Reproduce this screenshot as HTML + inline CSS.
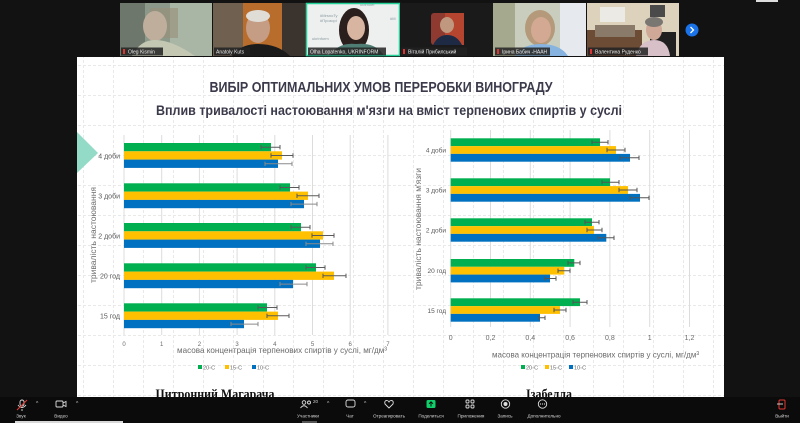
<!DOCTYPE html>
<html><head><meta charset="utf-8">
<style>
html,body{margin:0;padding:0;background:#111;width:800px;height:423px;overflow:hidden}
svg{display:block}
text{font-family:"Liberation Sans","DejaVu Sans",sans-serif}
</style></head>
<body>
<svg width="800" height="423" viewBox="0 0 800 423" xmlns="http://www.w3.org/2000/svg">
<defs>
<pattern id="grid" x="83" y="65" width="30" height="30" patternUnits="userSpaceOnUse">
<path d="M0 0.5H30 M0.5 0V30" stroke="#e9e9e9" stroke-width="1" stroke-dasharray="3 2" fill="none"/>
</pattern>
</defs>
<!-- dark background -->
<rect x="0" y="0" width="800" height="423" fill="#121212"/>
<!-- slide -->
<rect x="77" y="57" width="647" height="340" fill="#ffffff"/>
<rect x="77" y="57" width="647" height="340" fill="url(#grid)"/>
<polygon points="77,132 98,153 77,173" fill="#93dbc6"/>

<!-- titles -->
<text x="381" y="92" text-anchor="middle" font-size="14.5" font-weight="bold" fill="#3b3a4a" textLength="343" lengthAdjust="spacingAndGlyphs">ВИБІР ОПТИМАЛЬНИХ УМОВ ПЕРЕРОБКИ ВИНОГРАДУ</text>
<text x="389" y="115" text-anchor="middle" font-size="14" font-weight="bold" fill="#3b3a4a" textLength="466" lengthAdjust="spacingAndGlyphs">Вплив тривалості настоювання м'язги на вміст терпенових спиртів у суслі</text>

<!-- LEFT CHART gridlines -->
<g stroke="#dcdcdc" stroke-width="1">
<line x1="124" y1="135" x2="124" y2="335"/>
<line x1="161.7" y1="135" x2="161.7" y2="335"/>
<line x1="199.4" y1="135" x2="199.4" y2="335"/>
<line x1="237.1" y1="135" x2="237.1" y2="335"/>
<line x1="274.8" y1="135" x2="274.8" y2="335"/>
<line x1="312.5" y1="135" x2="312.5" y2="335"/>
<line x1="350.2" y1="135" x2="350.2" y2="335"/>
<line x1="387.9" y1="135" x2="387.9" y2="335"/>
</g>
<!-- left bars -->
<g>
<rect x="124" y="143" width="147" height="8.3" fill="#00b050"/>
<rect x="124" y="151.3" width="158" height="8.3" fill="#ffc000"/>
<rect x="124" y="159.6" width="154" height="8.3" fill="#0070c0"/>
<rect x="124" y="183.3" width="166" height="8.3" fill="#00b050"/>
<rect x="124" y="191.6" width="184" height="8.3" fill="#ffc000"/>
<rect x="124" y="199.9" width="180" height="8.3" fill="#0070c0"/>
<rect x="124" y="223" width="177" height="8.3" fill="#00b050"/>
<rect x="124" y="231.3" width="199" height="8.3" fill="#ffc000"/>
<rect x="124" y="239.6" width="196" height="8.3" fill="#0070c0"/>
<rect x="124" y="263.3" width="192" height="8.3" fill="#00b050"/>
<rect x="124" y="271.6" width="210" height="8.3" fill="#ffc000"/>
<rect x="124" y="279.9" width="169" height="8.3" fill="#0070c0"/>
<rect x="124" y="303.3" width="143" height="8.3" fill="#00b050"/>
<rect x="124" y="311.6" width="154" height="8.3" fill="#ffc000"/>
<rect x="124" y="319.9" width="120" height="8.3" fill="#0070c0"/>
</g>
<g stroke="#5a5a5a" stroke-width="1" fill="none">
<path d="M261 147.2H280M261 145V149.4M280 145V149.4"/>
<path d="M271 155.5H293M271 153.3V157.7M293 153.3V157.7"/>
<path d="M265 163.8H292M265 161.6V166M292 161.6V166" stroke="#8a8a8a"/>
<path d="M280 187.5H299M280 185.3V189.7M299 185.3V189.7"/>
<path d="M297 195.8H319M297 193.6V198M319 193.6V198"/>
<path d="M291 204.1H317M291 201.9V206.3M317 201.9V206.3" stroke="#8a8a8a"/>
<path d="M291 227.2H310M291 225V229.4M310 225V229.4"/>
<path d="M312 235.5H334M312 233.3V237.7M334 233.3V237.7"/>
<path d="M306 243.8H333M306 241.6V246M333 241.6V246" stroke="#8a8a8a"/>
<path d="M306 267.5H325M306 265.3V269.7M325 265.3V269.7"/>
<path d="M323 275.8H346M323 273.6V278M346 273.6V278"/>
<path d="M280 284.1H307M280 281.9V286.3M307 281.9V286.3" stroke="#8a8a8a"/>
<path d="M258 307.5H277M258 305.3V309.7M277 305.3V309.7"/>
<path d="M267 315.8H289M267 313.6V318M289 313.6V318"/>
<path d="M231 324.1H258M231 321.9V326.3M258 321.9V326.3" stroke="#8a8a8a"/>
</g>
<!-- left labels -->
<g font-size="7" fill="#595959" text-anchor="end">
<text x="120" y="158.5">4 доби</text>
<text x="120" y="198.5">3 доби</text>
<text x="120" y="238.5">2 доби</text>
<text x="120" y="278.5">20 год</text>
<text x="120" y="318.5">15 год</text>
</g>
<g font-size="6" fill="#6a6a6a" text-anchor="middle">
<text x="124" y="346">0</text>
<text x="161.7" y="346">1</text>
<text x="199.4" y="346">2</text>
<text x="237.1" y="346">3</text>
<text x="274.8" y="346">4</text>
<text x="312.5" y="346">5</text>
<text x="350.2" y="346">6</text>
<text x="387.9" y="346">7</text>
</g>
<text x="177" y="353" font-size="8.5" fill="#6a6a6a" textLength="210" lengthAdjust="spacingAndGlyphs">масова концентрація терпенових спиртів у суслі, мг/дм³</text>
<text transform="translate(96,235) rotate(-90)" text-anchor="middle" font-size="8.5" fill="#6a6a6a" textLength="96" lengthAdjust="spacingAndGlyphs">тривалість настоювання</text>
<g font-size="5.5" fill="#6a6a6a">
<rect x="198" y="365" width="4" height="4" fill="#00b050"/><text x="203" y="369.5">20◦С</text>
<rect x="225" y="365" width="4" height="4" fill="#ffc000"/><text x="230" y="369.5">15◦С</text>
<rect x="252" y="365" width="4" height="4" fill="#0070c0"/><text x="257" y="369.5">10◦С</text>
</g>

<!-- RIGHT CHART gridlines -->
<g stroke="#dcdcdc" stroke-width="1">
<line x1="450.7" y1="130" x2="450.7" y2="327"/>
<line x1="490.5" y1="130" x2="490.5" y2="327"/>
<line x1="530.3" y1="130" x2="530.3" y2="327"/>
<line x1="570.1" y1="130" x2="570.1" y2="327"/>
<line x1="609.9" y1="130" x2="609.9" y2="327"/>
<line x1="649.7" y1="130" x2="649.7" y2="327"/>
<line x1="689.5" y1="130" x2="689.5" y2="327"/>
</g>
<g>
<rect x="450.7" y="138.3" width="149.3" height="7.8" fill="#00b050"/>
<rect x="450.7" y="146.1" width="165.3" height="7.8" fill="#ffc000"/>
<rect x="450.7" y="153.9" width="179.3" height="7.8" fill="#0070c0"/>
<rect x="450.7" y="178.3" width="159.3" height="7.8" fill="#00b050"/>
<rect x="450.7" y="186.1" width="177.3" height="7.8" fill="#ffc000"/>
<rect x="450.7" y="193.9" width="189.3" height="7.8" fill="#0070c0"/>
<rect x="450.7" y="218.3" width="141.3" height="7.8" fill="#00b050"/>
<rect x="450.7" y="226.1" width="143.3" height="7.8" fill="#ffc000"/>
<rect x="450.7" y="233.9" width="155.6" height="7.8" fill="#0070c0"/>
<rect x="450.7" y="259" width="123.6" height="7.8" fill="#00b050"/>
<rect x="450.7" y="266.8" width="113.6" height="7.8" fill="#ffc000"/>
<rect x="450.7" y="274.6" width="99.3" height="7.8" fill="#0070c0"/>
<rect x="450.7" y="298.3" width="129.3" height="7.8" fill="#00b050"/>
<rect x="450.7" y="306.1" width="109.3" height="7.8" fill="#ffc000"/>
<rect x="450.7" y="313.9" width="89.3" height="7.8" fill="#0070c0"/>
</g>
<g stroke="#555" stroke-width="1" fill="none">
<path d="M592 142.2H608M592 140V144.4M608 140V144.4"/>
<path d="M607 150H625M607 147.8V152.2M625 147.8V152.2"/>
<path d="M620 157.8H639M620 155.6V160M639 155.6V160"/>
<path d="M602 182.2H619M602 180V184.4M619 180V184.4"/>
<path d="M619 190H637M619 187.8V192.2M637 187.8V192.2"/>
<path d="M630 197.8H649M630 195.6V200M649 195.6V200"/>
<path d="M585 222.2H599M585 220V224.4M599 220V224.4"/>
<path d="M587 230H602M587 227.8V232.2M602 227.8V232.2"/>
<path d="M598 237.8H614M598 235.6V240M614 235.6V240"/>
<path d="M568 262.9H580M568 260.7V265.1M580 260.7V265.1"/>
<path d="M558 270.7H570M558 268.5V272.9M570 268.5V272.9"/>
<path d="M545 278.5H556M545 276.3V280.7M556 276.3V280.7"/>
<path d="M573 302.2H587M573 300V304.4M587 300V304.4"/>
<path d="M554 310H566M554 307.8V312.2M566 307.8V312.2"/>
<path d="M539 317.8H545M539 315.6V320M545 315.6V320"/>
</g>
<g font-size="6.5" fill="#595959" text-anchor="end">
<text x="446" y="152.5">4 доби</text>
<text x="446" y="192.5">3 доби</text>
<text x="446" y="232.5">2 доби</text>
<text x="446" y="273">20 год</text>
<text x="446" y="313">15 год</text>
</g>
<g font-size="7" fill="#6a6a6a" text-anchor="middle">
<text x="450.7" y="340">0</text>
<text x="490.5" y="340">0,2</text>
<text x="530.3" y="340">0,4</text>
<text x="570.1" y="340">0,6</text>
<text x="609.9" y="340">0,8</text>
<text x="649.7" y="340">1</text>
<text x="689.5" y="340">1,2</text>
</g>
<text x="492" y="357.5" font-size="8.5" fill="#6a6a6a" textLength="207" lengthAdjust="spacingAndGlyphs">масова концентрація терпенових спиртів у суслі, мг/дм³</text>
<text transform="translate(421,229) rotate(-90)" text-anchor="middle" font-size="8.5" fill="#6a6a6a" textLength="122" lengthAdjust="spacingAndGlyphs">тривалість настоювання м'язги</text>
<g font-size="5.5" fill="#6a6a6a">
<rect x="521" y="365" width="4" height="4" fill="#00b050"/><text x="526" y="369.5">20◦С</text>
<rect x="545" y="365" width="4" height="4" fill="#ffc000"/><text x="550" y="369.5">15◦С</text>
<rect x="569" y="365" width="4" height="4" fill="#0070c0"/><text x="574" y="369.5">10◦С</text>
</g>

<!-- chart titles -->
<text x="215" y="398.5" text-anchor="middle" font-family="Liberation Serif, serif" style="font-family:'Liberation Serif',serif" font-size="14" font-weight="bold" fill="#111" textLength="119" lengthAdjust="spacingAndGlyphs">Цитронний Магарача</text>
<text x="549" y="398.5" text-anchor="middle" style="font-family:'Liberation Serif',serif" font-size="14" font-weight="bold" fill="#111" textLength="46" lengthAdjust="spacingAndGlyphs">Ізабелла</text>

<!-- TOP STRIP -->
<rect x="0" y="0" width="800" height="57" fill="#121212"/>
<rect x="0" y="56" width="77" height="1" fill="#121212"/>
<!-- thumb1 -->
<rect x="120" y="3" width="92" height="53" fill="#8c998a"/>
<rect x="120" y="3" width="25" height="53" fill="#6d776b"/>
<rect x="170" y="3" width="42" height="53" fill="#a9b5a5"/>
<rect x="150" y="8" width="28" height="30" fill="#9a8f79" opacity="0.6"/>
<ellipse cx="155" cy="26" rx="12" ry="15" fill="#bfae9c"/>
<path d="M132 56 Q140 40 155 40 Q172 40 195 56Z" fill="#c4c8b3"/>
<!-- thumb2 -->
<rect x="213" y="3" width="93" height="53" fill="#b96d2c"/>
<rect x="213" y="3" width="30" height="53" fill="#6f6050"/>
<rect x="282" y="3" width="24" height="53" fill="#3b342e"/>
<ellipse cx="258" cy="28" rx="12" ry="15" fill="#c59d84"/>
<ellipse cx="258" cy="16" rx="12" ry="6" fill="#e0dcd6"/>
<path d="M232 56 Q240 44 258 44 Q278 44 290 56Z" fill="#1b1b1b"/>
<!-- thumb3 -->
<rect x="306" y="3" width="94" height="53" fill="#eef0ef"/>
<g font-size="4" fill="#8a9aa0"><text x="320" y="17">#MrsnoTy</text><text x="320" y="22">#Прозорi</text><text x="360" y="6">#Mmoef</text><text x="390" y="20">#M</text><text x="312" y="40">ukrinform</text></g>
<ellipse cx="354" cy="30" rx="15" ry="22" fill="#2a1f1c"/>
<ellipse cx="356" cy="28" rx="9" ry="12" fill="#d8b5a0"/>
<path d="M330 56 Q338 42 356 44 Q376 42 384 56Z" fill="#4f7d74"/>
<rect x="306.5" y="3.5" width="93" height="52" fill="none" stroke="#25d29a" stroke-width="1.5"/>
<!-- thumb4 -->
<rect x="400" y="3" width="93" height="53" fill="#1a1a1a"/>
<rect x="431" y="13" width="33" height="32" rx="3" fill="#8f3a30"/>
<rect x="445" y="13" width="19" height="32" fill="#b5452e"/>
<ellipse cx="447" cy="25" rx="7" ry="8" fill="#c09880"/>
<path d="M433 45 Q438 35 447 35 Q457 35 462 45Z" fill="#1e2a44"/>
<!-- thumb5 -->
<rect x="493" y="3" width="93" height="53" fill="#c9cdbd"/>
<rect x="493" y="3" width="22" height="53" fill="#a5aa8f"/>
<rect x="560" y="3" width="26" height="53" fill="#e6eaee"/>
<ellipse cx="540" cy="28" rx="15" ry="18" fill="#b49a7a"/>
<ellipse cx="541" cy="30" rx="10" ry="13" fill="#d4a993"/>
<path d="M515 56 Q522 44 541 44 Q560 44 568 56Z" fill="#86b3df"/>
<!-- thumb6 -->
<rect x="587" y="3" width="92" height="53" fill="#ddd3bd"/>
<rect x="600" y="7" width="25" height="15" fill="#eceae4"/>
<rect x="650" y="5" width="15" height="12" fill="#4a4a4a"/>
<rect x="587" y="30" width="55" height="26" fill="#6d4c36"/>
<rect x="595" y="25" width="40" height="12" fill="#8a7a6a"/>
<rect x="650" y="32" width="26" height="24" fill="#202020"/>
<ellipse cx="654" cy="30" rx="8" ry="10" fill="#d0a898"/>
<ellipse cx="654" cy="22" rx="9" ry="5" fill="#7a7672"/>
<path d="M636 56 Q640 40 654 40 Q668 40 670 56Z" fill="#d8c0c8"/>
<!-- name labels -->
<g font-size="5" fill="#e8e8e8">
<rect x="121" y="47.5" width="42" height="8" fill="#222" opacity="0.85"/><rect x="123" y="49" width="2" height="5" fill="#d33"/><text x="128" y="53.5">Oleg Kismin</text>
<rect x="214" y="47.5" width="36" height="8" fill="#222" opacity="0.85"/><text x="216" y="53.5">Anatoly Kuts</text>
<rect x="308" y="47.5" width="78" height="8" fill="#222" opacity="0.85"/><text x="310" y="53.5">Olha Lopatenko, UKRINFORM</text>
<rect x="401" y="47.5" width="66" height="8" fill="#222" opacity="0.85"/><rect x="403" y="49" width="2" height="5" fill="#d33"/><text x="408" y="53.5">Віталій Прибилський</text>
<rect x="495" y="47.5" width="55" height="8" fill="#222" opacity="0.85"/><rect x="497" y="49" width="2" height="5" fill="#d33"/><text x="502" y="53.5">Ірина Бабич -НААН</text>
<rect x="588" y="47.5" width="60" height="8" fill="#222" opacity="0.85"/><rect x="590" y="49" width="2" height="5" fill="#d33"/><text x="595" y="53.5">Валентина Руденко</text>
</g>
<circle cx="692" cy="30" r="6.5" fill="#1a73e8"/>
<path d="M690.5 27 L693.5 30 L690.5 33" stroke="#fff" stroke-width="1.3" fill="none"/>
<rect x="756" y="0" width="22" height="2" fill="#ddd"/>

<!-- BOTTOM TOOLBAR -->
<rect x="0" y="397" width="800" height="26" fill="#0b0b0b"/>
<rect x="15" y="421" width="108" height="2" fill="#d8d8d8"/>
<rect x="302" y="421" width="15" height="2" fill="#555"/>
<g stroke="#ddd" stroke-width="0.9" fill="none">
<rect x="20" y="400" width="4" height="6" rx="2"/>
<path d="M18 405 Q22 410 26 405 M22 409V411"/>
<rect x="56" y="401" width="7" height="6" rx="1"/><path d="M63 403 L66 401.5 V406.5 L63 405"/>
<circle cx="304" cy="402.5" r="1.8"/><path d="M300.5 408 Q304 403.5 307.5 408"/>
<circle cx="309" cy="402.5" r="1.5"/>
<rect x="346" y="400" width="9" height="7" rx="2"/>
<path d="M389 408 L385 404 Q384 400.5 387 400.5 Q389 401 389 402.5 Q389 401 391 400.5 Q394 400.5 393 404Z"/>
<rect x="466" y="400" width="3" height="3" rx="1"/><rect x="471" y="400" width="3" height="3" rx="1"/><rect x="466" y="405" width="3" height="3" rx="1"/><rect x="471" y="405" width="3" height="3" rx="1"/>
<circle cx="505.5" cy="404" r="4.2"/>
<circle cx="542.5" cy="404" r="4.2"/>
</g>
<path d="M17 410 L27 400" stroke="#e53935" stroke-width="1.1"/>
<circle cx="505.5" cy="404" r="2" fill="#ddd"/>
<g fill="#ddd"><circle cx="540.5" cy="404" r="0.6"/><circle cx="542.5" cy="404" r="0.6"/><circle cx="544.5" cy="404" r="0.6"/></g>
<rect x="426.5" y="400" width="9" height="8" rx="1.5" fill="#0fd06a"/>
<path d="M431 406.5V401.8 M429 403.8 L431 401.8 L433 403.8" stroke="#0b0b0b" stroke-width="1" fill="none"/>
<rect x="779" y="400" width="6" height="9" rx="1" fill="none" stroke="#e53935" stroke-width="1"/>
<path d="M777 404H783" stroke="#ddd" stroke-width="0.9"/>
<g font-size="5" fill="#cfcfcf">
<text x="36" y="405">^</text><text x="76" y="405">^</text>
<text x="313" y="403" font-size="4.5">20</text><text x="327" y="405">^</text><text x="364" y="405">^</text>
</g>
<g font-size="4.6" fill="#d8d8d8" text-anchor="middle">
<text x="21" y="417.5">Звук</text>
<text x="61" y="417.5">Видео</text>
<text x="308" y="417.5">Участники</text>
<text x="350" y="417.5">Чат</text>
<text x="389" y="417.5">Отреагировать</text>
<text x="431" y="417.5">Поделиться</text>
<text x="471" y="417.5">Приложения</text>
<text x="505" y="417.5">Запись</text>
<text x="544" y="417.5">Дополнительно</text>
<text x="782" y="417.5">Выйти</text>
</g>
</svg>
</body></html>
